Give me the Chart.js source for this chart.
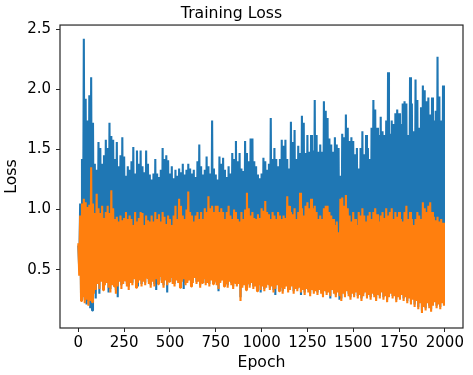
<!DOCTYPE html>
<html><head><meta charset="utf-8">
<script src="https://cdn.jsdelivr.net/npm/chart.js@4"></script>
<style>html,body{margin:0;padding:0;background:#fff}#wrap{width:473px;height:375px}</style>
</head><body><div id="wrap"><canvas id="c" width="473" height="375"></canvas></div>
<script>
// Each bin covers 10 epochs: highest and lowest loss.
const binSize = 10;
const blueUpper = [
0.70,1.05,1.42,2.42,1.92,1.74,1.95,2.10,1.72,1.38,
1.33,1.56,1.51,1.38,1.45,1.58,1.51,1.72,1.61,1.58,
1.42,1.56,1.36,1.45,1.60,1.44,1.28,1.36,1.33,1.40,
1.52,1.30,1.49,1.38,1.49,1.36,1.31,1.49,1.38,1.29,
1.25,1.30,1.42,1.30,1.27,1.33,1.51,1.42,1.45,1.41,
1.30,1.36,1.26,1.33,1.28,1.34,1.31,1.38,1.29,1.33,
1.38,1.34,1.30,1.33,1.27,1.40,1.54,1.36,1.29,1.33,
1.44,1.36,1.30,1.74,1.34,1.29,1.25,1.44,1.38,1.43,
1.33,1.27,1.36,1.30,1.47,1.42,1.57,1.40,1.47,1.34,
1.32,1.57,1.47,1.40,1.59,1.59,1.40,1.36,1.29,1.26,
1.30,1.43,1.40,1.33,1.38,1.76,1.42,1.51,1.42,1.36,
1.42,1.58,1.53,1.58,1.42,1.34,1.73,1.56,1.66,1.42,
1.53,1.47,1.78,1.72,1.47,1.62,1.48,1.62,1.49,1.91,
1.62,1.48,1.54,1.48,1.90,1.82,1.76,1.59,1.54,1.48,
1.60,1.54,1.51,1.28,1.63,1.60,1.79,1.68,1.57,1.60,
1.57,1.46,1.51,1.34,1.51,1.65,1.46,1.62,1.51,1.42,
1.68,1.91,1.83,1.68,1.62,1.77,1.65,1.62,1.74,2.14,
1.63,1.74,1.71,1.80,1.83,1.80,1.71,1.88,1.90,1.88,
1.62,2.10,1.88,1.65,2.08,1.91,1.68,1.85,2.03,1.99,
1.90,1.93,1.79,1.93,1.74,1.82,2.27,1.94,1.74,2.03];
const blueLower = [
0.50,0.27,0.30,0.25,0.21,0.24,0.18,0.16,0.33,0.26,
0.40,0.30,0.42,0.36,0.39,0.41,0.31,0.34,0.39,0.38,
0.33,0.27,0.42,0.37,0.40,0.43,0.38,0.36,0.41,0.39,
0.44,0.37,0.36,0.43,0.38,0.42,0.39,0.45,0.40,0.37,
0.42,0.38,0.33,0.40,0.46,0.41,0.37,0.43,0.31,0.42,
0.45,0.40,0.38,0.43,0.41,0.37,0.42,0.34,0.39,0.41,
0.43,0.38,0.41,0.45,0.40,0.42,0.37,0.41,0.44,0.39,
0.41,0.38,0.43,0.40,0.42,0.39,0.32,0.41,0.43,0.38,
0.40,0.37,0.42,0.39,0.36,0.41,0.38,0.40,0.27,0.37,
0.39,0.35,0.40,0.37,0.41,0.36,0.38,0.34,0.39,0.31,
0.38,0.34,0.37,0.40,0.35,0.38,0.33,0.29,0.39,0.34,
0.37,0.32,0.36,0.38,0.33,0.35,0.38,0.32,0.36,0.34,
0.37,0.29,0.35,0.31,0.36,0.33,0.30,0.35,0.32,0.34,
0.31,0.35,0.32,0.29,0.34,0.31,0.33,0.26,0.35,0.32,
0.29,0.33,0.25,0.26,0.32,0.29,0.34,0.30,0.27,0.32,
0.29,0.33,0.28,0.31,0.26,0.30,0.33,0.28,0.31,0.27,
0.32,0.29,0.26,0.31,0.28,0.33,0.27,0.30,0.25,0.29,
0.32,0.28,0.30,0.25,0.29,0.27,0.31,0.26,0.29,0.24,
0.28,0.23,0.27,0.21,0.26,0.19,0.24,0.16,0.21,0.18,
0.24,0.20,0.17,0.22,0.25,0.20,0.23,0.19,0.24,0.22];
const orangeUpper = [
0.72,0.95,1.05,1.09,1.06,1.02,1.04,1.35,1.05,0.97,
1.13,1.01,0.97,1.03,0.93,0.98,1.03,0.97,1.16,1.01,
0.92,0.94,0.90,0.95,0.91,0.93,0.98,0.92,0.95,0.92,
0.87,0.98,0.90,0.93,0.98,0.97,0.87,0.95,0.91,0.90,
0.95,0.90,0.98,0.92,0.96,0.90,0.98,0.94,0.88,0.95,
0.92,0.87,0.95,1.03,0.92,1.09,1.03,0.95,0.92,1.00,
1.15,0.98,0.95,0.90,0.95,0.98,0.92,0.98,0.92,1.01,
0.98,1.11,1.01,1.03,0.98,1.03,1.03,0.98,1.01,0.98,
0.92,0.98,1.03,0.95,0.92,1.00,0.98,0.92,0.90,0.98,
0.92,1.00,1.14,1.01,0.95,0.98,0.93,0.92,0.96,0.93,
1.01,0.99,1.07,0.98,0.96,0.92,0.98,0.95,0.92,0.98,
0.95,0.92,0.95,0.93,1.11,1.03,0.98,0.96,1.01,0.92,
0.98,1.14,1.01,0.95,1.03,1.06,1.01,1.09,1.01,1.03,
0.98,0.92,0.95,0.92,1.01,1.03,1.03,0.98,0.95,0.92,
0.87,0.90,0.81,1.09,1.10,1.03,1.12,1.01,0.95,0.90,
0.98,0.92,0.87,0.98,0.95,1.01,0.95,0.90,0.95,0.98,
0.92,0.98,1.01,0.96,0.90,0.95,0.98,0.93,1.01,0.95,
0.98,1.01,0.92,0.98,0.94,0.98,0.92,0.90,0.98,1.03,
0.92,0.98,0.92,0.87,0.92,0.98,0.95,0.92,1.06,1.01,
0.98,1.03,1.06,0.98,0.94,0.91,0.94,0.90,0.92,0.89];
const orangeLower = [
0.45,0.24,0.27,0.22,0.25,0.20,0.24,0.23,0.30,0.33,
0.38,0.34,0.40,0.33,0.37,0.39,0.35,0.31,0.37,0.36,
0.30,0.36,0.40,0.34,0.38,0.41,0.36,0.33,0.39,0.37,
0.42,0.35,0.39,0.41,0.36,0.40,0.37,0.43,0.38,0.35,
0.40,0.36,0.42,0.38,0.44,0.39,0.35,0.41,0.37,0.40,
0.43,0.38,0.36,0.41,0.39,0.35,0.40,0.42,0.37,0.39,
0.41,0.36,0.39,0.43,0.38,0.40,0.35,0.39,0.42,0.37,
0.39,0.36,0.41,0.38,0.40,0.37,0.34,0.39,0.41,0.36,
0.38,0.35,0.40,0.37,0.34,0.39,0.36,0.38,0.24,0.35,
0.37,0.33,0.38,0.35,0.39,0.34,0.36,0.32,0.37,0.33,
0.36,0.32,0.35,0.38,0.33,0.36,0.31,0.34,0.37,0.32,
0.35,0.30,0.34,0.36,0.31,0.33,0.36,0.30,0.34,0.32,
0.35,0.31,0.33,0.29,0.34,0.31,0.28,0.33,0.30,0.32,
0.29,0.33,0.30,0.27,0.32,0.29,0.31,0.28,0.33,0.30,
0.27,0.31,0.28,0.24,0.30,0.27,0.32,0.28,0.25,0.30,
0.27,0.31,0.26,0.29,0.24,0.28,0.31,0.26,0.29,0.25,
0.30,0.27,0.24,0.29,0.26,0.31,0.25,0.28,0.23,0.27,
0.30,0.26,0.28,0.23,0.27,0.25,0.29,0.24,0.27,0.22,
0.26,0.21,0.25,0.19,0.24,0.17,0.22,0.14,0.19,0.16,
0.22,0.18,0.15,0.20,0.23,0.18,0.21,0.17,0.22,0.20];
const xTicks = [0,250,500,750,1000,1250,1500,1750,2000];
const yTicks = [0.5,1.0,1.5,2.0,2.5];

function zigzag(up, low) {
  const pts = [];
  for (let i = 0; i < up.length; i++) {
    pts.push({x: i * binSize, y: up[i]});
    pts.push({x: i * binSize + binSize / 2, y: low[i]});
  }
  return pts;
}

const FONT = 'DejaVu Sans';
const frame = {
  id: 'frame',
  afterDatasetsDraw(chart) {
    const {ctx, chartArea: a} = chart;
    ctx.save();
    ctx.strokeStyle = '#262626';
    ctx.lineWidth = 1.2;
    ctx.strokeRect(a.left, a.top, a.right - a.left, a.bottom - a.top);
    ctx.restore();
  }
};

new Chart(document.getElementById('c'), {
  type: 'line',
  data: {
    datasets: [
      {label: 'train', data: zigzag(blueUpper, blueLower), borderColor: '#1f77b4', borderWidth: 2.1, order: 2},
      {label: 'val', data: zigzag(orangeUpper, orangeLower), borderColor: '#ff7f0e', borderWidth: 2.1, order: 1}
    ]
  },
  options: {
    responsive: false,
    animation: false,
    events: [],
    layout: {padding: {left: 0, right: 10, top: 0, bottom: 0}},
    elements: {point: {radius: 0}, line: {tension: 0, borderJoinStyle: 'bevel', fill: false}},
    plugins: {
      legend: {display: false},
      tooltip: {enabled: false},
      title: {display: true, text: 'Training Loss', color: '#000',
        font: {family: FONT, size: 15.7, weight: 'normal'}, padding: {top: 4.6, bottom: 1.6}}
    },
    scales: {
      x: {
        type: 'linear', min: -100, max: 2099,
        afterBuildTicks: s => { s.ticks = xTicks.map(v => ({value: v})); },
        afterFit: s => { s.height = 47; },
        grid: {display: true, drawOnChartArea: false, drawTicks: true, tickLength: 4, tickColor: '#262626', tickWidth: 1},
        border: {display: false},
        ticks: {color: '#000', font: {family: FONT, size: 15}, padding: 2, maxRotation: 0, autoSkip: false,
          callback: v => String(v)},
        title: {display: true, text: 'Epoch', color: '#000', font: {family: FONT, size: 15.7}, padding: {top: 0, bottom: 3}}
      },
      y: {
        type: 'linear', min: 0.015, max: 2.533,
        afterBuildTicks: s => { s.ticks = yTicks.map(v => ({value: v})); },
        afterFit: s => { s.width = 60; },
        grid: {display: true, drawOnChartArea: false, drawTicks: true, tickLength: 4, tickColor: '#262626', tickWidth: 1},
        border: {display: false},
        ticks: {color: '#000', font: {family: FONT, size: 15}, padding: 5, autoSkip: false,
          callback: v => Number(v).toFixed(1)},
        title: {display: true, text: 'Loss', color: '#000', font: {family: FONT, size: 15.7}, padding: {top: 3, bottom: 0}}
      }
    }
  },
  plugins: [frame]
});
</script>
</body></html>
